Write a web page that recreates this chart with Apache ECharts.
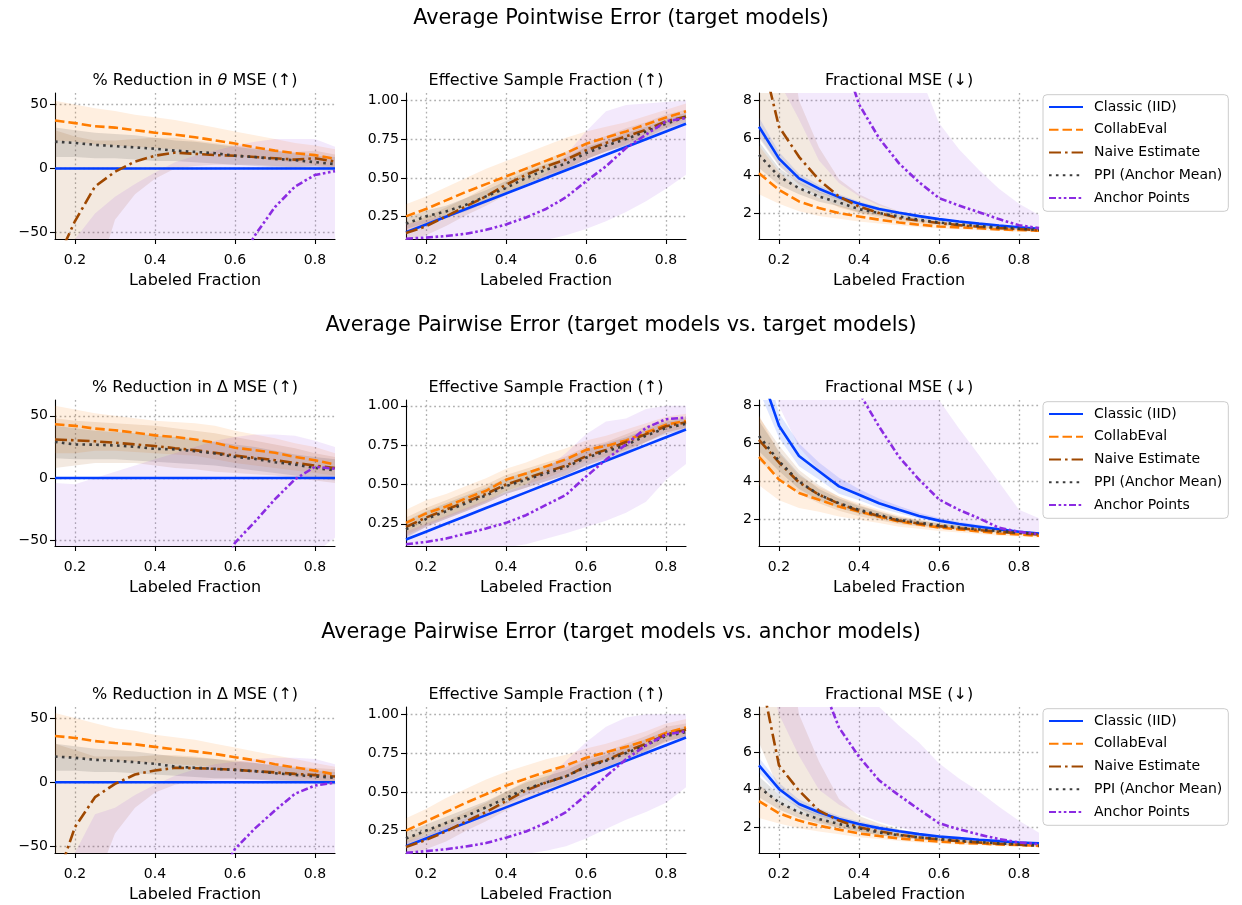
<!DOCTYPE html>
<html><head><meta charset="utf-8">
<script src="https://cdn.jsdelivr.net/npm/echarts@6/dist/echarts.min.js"></script>
<style>html,body{margin:0;padding:0;background:#fff}#c{width:1242px;height:905px}</style>
</head><body><div id="c"></div>
<script>
// ---------------- DATA ----------------
const LABELED_FRACTION = [0.15,0.2,0.25,0.3,0.35,0.4,0.45,0.5,0.55,0.6,0.65,0.7,0.75,0.8,0.85];
const METHODS = ['Classic (IID)','CollabEval','Naive Estimate','PPI (Anchor Mean)','Anchor Points'];
const ROW_TITLES = ['Average Pointwise Error (target models)','Average Pairwise Error (target models vs. target models)','Average Pairwise Error (target models vs. anchor models)'];
const X_TICKS = [0.2,0.4,0.6,0.8];
const RED_TICKS = [-50,0,50];
const ESF_TICKS = [0.25,0.5,0.75,1.0];
const MSE_TICKS = [2,4,6,8];

// Row 1: pointwise
const POINT_RED_MEAN = [
  [0,0,0,0,0,0,0,0,0,0,0,0,0,0,0],
  [37.5,35.5,33,32,30,28,26.5,24.5,22,19.5,16.5,14,12,10.5,7.5],
  [-75,-41,-14,-2.5,5.5,10,12.5,11.5,10.5,10,9,8,7,8,5.5],
  [21,20,18.5,17.5,16.5,15.5,14,13,12,10,9,7.5,6.5,5,3.5],
  [-600,-500,-400,-330,-270,-220,-180,-150,-110,-78,-52,-30,-14,-5,-2]];
const POINT_RED_LO = [null,
  [22,21,19,18,17,16,15,14,12,10,8,6,5,3,1],
  [-200,-150,-90,-40,-20,-8,0,2,3,3,3,2,1,2,0],
  [9,9,8,8,7,6,6,5,4,3,2,1,0,-1,-2],
  [-1200,-1000,-800,-700,-600,-500,-420,-350,-300,-250,-200,-170,-140,-110,-90]];
const POINT_RED_HI = [null,
  [53,50,47,45,42,40,38,35,32,29,26,23,20,18,15],
  [30,25,22,22,23,24,24,22,20,18,16,14,13,14,11],
  [32,30,28,27,26,24,22,21,19,17,15,14,12,10,9],
  [-80,-55,-35,-22,-12,-3,5,10,14,18,21,23,23,23,17]];

const POINT_ESF_MEAN = [
  [0.15,0.2,0.25,0.3,0.35,0.4,0.45,0.5,0.55,0.6,0.65,0.7,0.75,0.8,0.85],
  [0.252,0.30,0.355,0.41,0.46,0.51,0.56,0.61,0.66,0.72,0.76,0.80,0.845,0.89,0.93],
  [0.145,0.188,0.252,0.317,0.381,0.456,0.52,0.575,0.618,0.678,0.725,0.768,0.81,0.865,0.897],
  [0.205,0.252,0.284,0.327,0.381,0.435,0.50,0.553,0.592,0.66,0.708,0.751,0.80,0.85,0.893],
  [0.108,0.115,0.125,0.14,0.165,0.2,0.245,0.3,0.375,0.478,0.575,0.693,0.779,0.865,0.887]];
const POINT_ESF_LO = [null,
  [0.16,0.21,0.26,0.31,0.36,0.41,0.46,0.51,0.56,0.62,0.67,0.72,0.78,0.83,0.88],
  [0.1,0.13,0.19,0.26,0.32,0.39,0.46,0.52,0.56,0.62,0.67,0.71,0.75,0.81,0.85],
  [0.17,0.21,0.245,0.285,0.34,0.39,0.46,0.51,0.55,0.62,0.67,0.71,0.76,0.82,0.86],
  [0.05,0.05,0.06,0.07,0.08,0.09,0.1,0.1,0.13,0.17,0.22,0.28,0.35,0.43,0.52]];
const POINT_ESF_HI = [null,
  [0.33,0.38,0.44,0.5,0.56,0.61,0.66,0.71,0.76,0.8,0.83,0.86,0.9,0.94,0.98],
  [0.2,0.25,0.31,0.37,0.44,0.51,0.57,0.62,0.67,0.73,0.77,0.82,0.86,0.91,0.94],
  [0.24,0.29,0.32,0.37,0.42,0.48,0.54,0.59,0.63,0.7,0.74,0.79,0.83,0.88,0.92],
  [0.2,0.23,0.26,0.3,0.34,0.39,0.45,0.53,0.65,0.8,0.93,0.97,0.98,0.99,1.0]];

const POINT_MSE_MEAN = [
  [6.6,4.9,3.85,3.3,2.85,2.5,2.22,2.02,1.84,1.68,1.55,1.44,1.34,1.25,1.17],
  [4.12,3.24,2.62,2.27,2.0,1.82,1.65,1.5,1.38,1.29,1.24,1.19,1.13,1.1,1.06],
  [11,6.6,5.0,3.77,2.88,2.35,2.0,1.73,1.6,1.47,1.36,1.27,1.2,1.15,1.08],
  [5.1,3.95,3.33,2.88,2.57,2.21,2.0,1.82,1.65,1.5,1.4,1.31,1.24,1.17,1.1],
  [40,28,20,15,11,7.8,6.0,4.65,3.65,2.8,2.4,2.05,1.68,1.35,1.2]];
const POINT_MSE_LO = [
  [6.1,4.55,3.6,3.1,2.7,2.38,2.12,1.94,1.77,1.62,1.5,1.39,1.3,1.21,1.14],
  [3.0,2.5,2.1,1.85,1.7,1.55,1.45,1.35,1.25,1.18,1.12,1.08,1.04,1.01,0.98],
  [6,4.5,3.5,2.9,2.3,2.0,1.75,1.55,1.45,1.35,1.26,1.18,1.12,1.08,1.02],
  [4.4,3.5,3.0,2.6,2.36,2.04,1.86,1.7,1.55,1.42,1.33,1.25,1.19,1.13,1.06],
  [12,9,7,4.8,3.6,2.9,2.4,2.1,1.85,1.65,1.5,1.4,1.3,1.2,1.1]];
const POINT_MSE_HI = [
  [7.1,5.25,4.1,3.5,3.0,2.62,2.32,2.1,1.91,1.74,1.6,1.49,1.38,1.29,1.2],
  [5.6,4.2,3.3,2.8,2.4,2.15,1.95,1.75,1.6,1.48,1.4,1.32,1.24,1.18,1.13],
  [30,15,8,5.5,3.8,3.0,2.5,2.1,1.9,1.7,1.55,1.42,1.33,1.25,1.18],
  [5.8,4.4,3.65,3.15,2.78,2.38,2.14,1.94,1.75,1.58,1.47,1.37,1.29,1.21,1.14],
  [200,150,100,70,50,35,25,16,9.5,6.8,5.4,4.3,3.3,2.5,1.9]];

// Row 2: pairwise, target vs target
const PAIR_T_RED_MEAN = [
  [0,0,0,0,0,0,0,0,0,0,0,0,0,0,0],
  [43.2,41.9,39.7,38.4,36.5,34.3,33,31,28.4,24.3,22.4,20.3,17,14.3,10.8],
  [31,30.3,29.5,28.4,27,25.7,24,22.4,20.3,18,16.2,14.3,12.2,10,8.1],
  [29,27,26.8,26.2,25.1,23.5,23,21.6,19.7,17,15.4,12.7,10.8,8.1,6.2],
  [-1000,-700,-500,-380,-290,-220,-170,-130,-90,-52,-35,-17,-1,9,7.5]];
const PAIR_T_RED_LO = [null,
  [20,20,22,22,21,20,19,18,15,12,10,8,6,4,2],
  [8,10,12,12,12,10,8,7,5,4,3,2,0,-2,-4],
  [16,15,15,15,14,13,12,11,10,8,6,4,2,0,-2],
  [-3000,-2000,-1500,-1100,-900,-700,-550,-430,-330,-250,-180,-130,-90,-60,-48]];
const PAIR_T_RED_HI = [null,
  [58,55,52,50,48,46,45,44,42,38,35,32,28,25,20],
  [48,46,45,44,43,42,40,38,36,33,30,27,24,20,17],
  [42,40,38,37,36,34,33,31,29,27,25,22,19,17,15],
  [-4,-5,0,5,10,15,20,25,30,33,35,35,34,30,25]];

const PAIR_T_ESF_MEAN = [
  [0.15,0.2,0.25,0.3,0.35,0.4,0.45,0.5,0.55,0.6,0.65,0.7,0.75,0.8,0.85],
  [0.256,0.316,0.36,0.412,0.46,0.53,0.57,0.615,0.66,0.72,0.745,0.78,0.83,0.88,0.904],
  [0.23,0.29,0.34,0.39,0.44,0.5,0.54,0.58,0.62,0.68,0.72,0.77,0.82,0.87,0.895],
  [0.215,0.28,0.33,0.38,0.43,0.49,0.53,0.57,0.61,0.67,0.71,0.75,0.81,0.86,0.885],
  [0.12,0.135,0.156,0.188,0.22,0.256,0.305,0.37,0.434,0.55,0.658,0.754,0.86,0.915,0.925]];
const PAIR_T_ESF_LO = [null,
  [0.18,0.24,0.29,0.34,0.39,0.46,0.5,0.54,0.59,0.65,0.68,0.72,0.77,0.83,0.86],
  [0.17,0.23,0.28,0.33,0.38,0.44,0.48,0.52,0.56,0.62,0.67,0.72,0.77,0.83,0.86],
  [0.16,0.23,0.28,0.33,0.38,0.44,0.48,0.52,0.56,0.62,0.66,0.7,0.77,0.82,0.85],
  [0.05,0.06,0.07,0.08,0.09,0.1,0.12,0.155,0.19,0.23,0.27,0.32,0.39,0.53,0.63]];
const PAIR_T_ESF_HI = [null,
  [0.34,0.4,0.44,0.49,0.54,0.6,0.64,0.69,0.73,0.78,0.81,0.85,0.89,0.93,0.95],
  [0.29,0.35,0.4,0.45,0.5,0.56,0.6,0.64,0.68,0.74,0.77,0.82,0.87,0.91,0.93],
  [0.27,0.33,0.38,0.43,0.48,0.54,0.58,0.62,0.66,0.72,0.76,0.8,0.85,0.9,0.92],
  [0.2,0.25,0.3,0.35,0.4,0.45,0.5,0.6,0.7,0.82,0.9,0.92,0.98,1.0,1.0]];

const PAIR_T_MSE_MEAN = [
  [10,6.94,5.34,4.54,3.74,3.3,2.85,2.5,2.18,1.93,1.75,1.61,1.47,1.34,1.25],
  [5.3,4.1,3.39,3.03,2.67,2.41,2.14,1.88,1.73,1.57,1.47,1.36,1.25,1.2,1.13],
  [6.2,5.0,3.95,3.3,2.82,2.45,2.18,1.93,1.78,1.64,1.53,1.43,1.34,1.27,1.19],
  [6.4,5.07,4.0,3.3,2.85,2.5,2.23,1.96,1.82,1.68,1.57,1.47,1.38,1.31,1.22],
  [60,40,26,18,12,8.7,6.9,5.3,4.1,3.05,2.5,2.05,1.55,1.34,1.22]];
const PAIR_T_MSE_LO = [
  [8.8,6.3,4.8,4.1,3.35,3.0,2.6,2.32,2.03,1.81,1.64,1.52,1.39,1.27,1.18],
  [3.8,3.0,2.6,2.4,2.15,1.98,1.8,1.6,1.5,1.38,1.3,1.22,1.13,1.09,1.03],
  [5.1,4.2,3.35,2.85,2.45,2.16,1.95,1.74,1.62,1.5,1.41,1.33,1.25,1.19,1.12],
  [5.6,4.55,3.6,3.0,2.6,2.3,2.06,1.83,1.7,1.57,1.48,1.39,1.31,1.24,1.16],
  [12,8,5.8,4.6,3.8,3.2,2.8,2.45,2.2,1.95,1.75,1.6,1.45,1.3,1.15]];
const PAIR_T_MSE_HI = [
  [11.5,7.6,6.0,5.0,4.2,3.6,3.1,2.7,2.35,2.07,1.87,1.71,1.56,1.42,1.32],
  [7.5,5.5,4.3,3.7,3.2,2.85,2.5,2.2,2.0,1.8,1.68,1.55,1.42,1.34,1.26],
  [7.4,5.9,4.6,3.8,3.2,2.75,2.42,2.13,1.95,1.78,1.66,1.54,1.44,1.36,1.27],
  [7.2,5.6,4.4,3.6,3.1,2.7,2.4,2.1,1.95,1.79,1.67,1.56,1.46,1.38,1.28],
  [300,200,120,80,50,35,25,18,12,8.3,6.8,5.4,3.95,2.5,2.05]];

// Row 3: pairwise, target vs anchor
const PAIR_A_RED_MEAN = [
  [0,0,0,0,0,0,0,0,0,0,0,0,0,0,0],
  [36,34.5,32,30.5,29.5,27.5,25.5,24,22,19.5,17,14,11.5,9,6],
  [-80,-35,-11.7,-1.3,6,9.1,11.2,10.9,10.4,9.6,8.6,7.6,6.5,5.5,4.4],
  [20,19,17.4,16.7,15.6,14.3,12.2,11.2,10.4,9.6,8.6,7,5.7,4.4,3.4],
  [-900,-650,-480,-360,-270,-200,-150,-110,-80,-52,-36,-22,-9,-2.6,-0.3]];
const PAIR_A_RED_LO = [null,
  [20,19,18,17,16,15,14,13,12,10,8,6,4,2,0],
  [-200,-150,-80,-40,-20,-8,-2,1,2,2,2,2,1,0,-1],
  [9,9,8,8,7,6,5,4,3,3,2,1,0,-1,-2],
  [-1200,-1000,-800,-700,-600,-500,-420,-350,-300,-250,-200,-170,-140,-110,-90]];
const PAIR_A_RED_HI = [null,
  [54,50,46,42,40,37,35,33,30,27,24,21,18,15,12],
  [30,25,20,20,20,21,21,20,18,17,15,13,12,11,10],
  [30,28,26,25,24,22,20,19,18,16,15,13,11,9,8],
  [-80,-55,-25,-20,-10,-2,5,10,14,16,18,19,19,18,14]];

const PAIR_A_ESF_MEAN = [
  [0.15,0.2,0.25,0.3,0.35,0.4,0.45,0.5,0.55,0.6,0.65,0.7,0.75,0.8,0.85],
  [0.25,0.31,0.37,0.43,0.485,0.54,0.585,0.63,0.67,0.72,0.755,0.79,0.83,0.88,0.915],
  [0.145,0.19,0.245,0.31,0.37,0.44,0.51,0.56,0.6,0.665,0.705,0.76,0.81,0.87,0.9],
  [0.2,0.25,0.3,0.345,0.4,0.46,0.52,0.56,0.6,0.66,0.7,0.75,0.8,0.86,0.885],
  [0.107,0.118,0.13,0.148,0.17,0.205,0.245,0.3,0.37,0.48,0.6,0.71,0.8,0.87,0.89]];
const PAIR_A_ESF_LO = [null,
  [0.17,0.23,0.28,0.34,0.39,0.45,0.5,0.55,0.6,0.66,0.7,0.73,0.77,0.82,0.86],
  [0.1,0.13,0.18,0.25,0.31,0.38,0.45,0.5,0.54,0.61,0.65,0.71,0.76,0.82,0.86],
  [0.16,0.21,0.26,0.3,0.36,0.42,0.48,0.52,0.56,0.62,0.66,0.71,0.76,0.83,0.85],
  [0.05,0.06,0.06,0.07,0.08,0.09,0.1,0.12,0.15,0.2,0.26,0.32,0.37,0.43,0.53]];
const PAIR_A_ESF_HI = [null,
  [0.33,0.39,0.46,0.52,0.58,0.63,0.67,0.71,0.74,0.78,0.81,0.85,0.89,0.94,0.97],
  [0.2,0.25,0.31,0.37,0.43,0.5,0.57,0.62,0.66,0.72,0.76,0.81,0.86,0.92,0.94],
  [0.24,0.29,0.34,0.39,0.44,0.5,0.56,0.6,0.64,0.7,0.74,0.79,0.84,0.89,0.92],
  [0.18,0.22,0.28,0.33,0.38,0.43,0.5,0.58,0.7,0.82,0.92,0.98,1.0,1.0,1.0]];

const PAIR_A_MSE_MEAN = [
  [5.29,4.04,3.24,2.8,2.44,2.18,1.96,1.79,1.64,1.52,1.43,1.34,1.27,1.2,1.15],
  [3.39,2.75,2.36,2.09,1.88,1.68,1.54,1.41,1.33,1.25,1.18,1.15,1.09,1.06,1.02],
  [10.5,5.29,3.95,2.89,2.36,2.0,1.79,1.61,1.47,1.36,1.27,1.2,1.13,1.08,1.02],
  [4.13,3.33,2.8,2.44,2.18,1.95,1.73,1.59,1.47,1.38,1.29,1.22,1.15,1.09,1.04],
  [30,20,14,10,7.3,5.75,4.5,3.7,2.95,2.22,1.9,1.62,1.38,1.2,1.11]];
const PAIR_A_MSE_LO = [
  [4.9,3.75,3.02,2.62,2.29,2.05,1.85,1.7,1.56,1.45,1.37,1.29,1.22,1.16,1.11],
  [2.5,2.2,1.95,1.78,1.63,1.48,1.38,1.28,1.2,1.14,1.08,1.05,1.0,0.98,0.95],
  [6.5,4.0,3.0,2.3,2.0,1.75,1.58,1.45,1.35,1.26,1.18,1.12,1.06,1.02,0.98],
  [3.6,2.95,2.5,2.2,1.97,1.78,1.58,1.47,1.37,1.29,1.21,1.15,1.08,1.03,0.98],
  [12,8,5.8,4.0,3.2,2.7,2.3,2.0,1.75,1.55,1.42,1.32,1.22,1.14,1.06]];
const PAIR_A_MSE_HI = [
  [5.7,4.35,3.48,3.0,2.6,2.32,2.08,1.89,1.73,1.6,1.5,1.4,1.32,1.25,1.19],
  [4.3,3.3,2.8,2.45,2.2,1.95,1.78,1.62,1.5,1.4,1.32,1.26,1.19,1.14,1.1],
  [30,15,8,5.5,3.5,2.6,2.2,1.9,1.7,1.55,1.42,1.32,1.24,1.16,1.1],
  [4.7,3.75,3.1,2.7,2.4,2.13,1.88,1.72,1.58,1.48,1.38,1.3,1.22,1.15,1.1],
  [200,150,100,70,40,18,8.4,7.4,6.5,5.4,4.6,3.9,3.1,2.35,1.72]];

// ---------------- STYLE / LAYOUT ----------------
const FONT = 'DejaVu Sans';
const COLORS = ['#023eff','#ff7c00','#9f4800','#3c3c3c','#8b2be2'];
const BAND_COLORS = ['rgba(2,62,255,0.13)','rgba(255,124,0,0.12)','rgba(159,72,0,0.12)','rgba(60,60,60,0.14)','rgba(139,43,226,0.10)'];
const DASHES = ['solid',[9.5,4],[12,4,2.6,4],[2.6,4.3],[7,2.6,2.6,2.6,2.6,2.6]];
const GRID_LEFT = [55,406,759];
const GRID_TOP = [93,400,707];
const GRID_W = 280, GRID_H = 146;

const fmtRed = v => v < 0 ? '\u2212' + Math.abs(v) : String(v);
const fmtEsf = v => v.toFixed(2);
const fmtMse = v => String(v);

const PANELS = [
  {mean:POINT_RED_MEAN, lo:POINT_RED_LO, hi:POINT_RED_HI, y:[-55,59], ticks:RED_TICKS, fmt:fmtRed, title:'% Reduction in {i|θ} MSE (↑)'},
  {mean:POINT_ESF_MEAN, lo:POINT_ESF_LO, hi:POINT_ESF_HI, y:[0.106,1.048], ticks:ESF_TICKS, fmt:fmtEsf, title:'Effective Sample Fraction (↑)'},
  {mean:POINT_MSE_MEAN, lo:POINT_MSE_LO, hi:POINT_MSE_HI, y:[0.62,8.4], ticks:MSE_TICKS, fmt:fmtMse, title:'Fractional MSE (↓)'},
  {mean:PAIR_T_RED_MEAN, lo:PAIR_T_RED_LO, hi:PAIR_T_RED_HI, y:[-54.6,62.7], ticks:RED_TICKS, fmt:fmtRed, title:'% Reduction in Δ MSE (↑)'},
  {mean:PAIR_T_ESF_MEAN, lo:PAIR_T_ESF_LO, hi:PAIR_T_ESF_HI, y:[0.109,1.037], ticks:ESF_TICKS, fmt:fmtEsf, title:'Effective Sample Fraction (↑)'},
  {mean:PAIR_T_MSE_MEAN, lo:PAIR_T_MSE_LO, hi:PAIR_T_MSE_HI, y:[0.59,8.3], ticks:MSE_TICKS, fmt:fmtMse, title:'Fractional MSE (↓)'},
  {mean:PAIR_A_RED_MEAN, lo:PAIR_A_RED_LO, hi:PAIR_A_RED_HI, y:[-55.2,58.6], ticks:RED_TICKS, fmt:fmtRed, title:'% Reduction in Δ MSE (↑)'},
  {mean:PAIR_A_ESF_MEAN, lo:PAIR_A_ESF_LO, hi:PAIR_A_ESF_HI, y:[0.106,1.047], ticks:ESF_TICKS, fmt:fmtEsf, title:'Effective Sample Fraction (↑)'},
  {mean:PAIR_A_MSE_MEAN, lo:PAIR_A_MSE_LO, hi:PAIR_A_MSE_HI, y:[0.64,8.39], ticks:MSE_TICKS, fmt:fmtMse, title:'Fractional MSE (↓)'}
];

const grids = [], xAxes = [], yAxes = [], series = [], texts = [], legends = [];
const axisLineStyle = {color:'#000', width:1.1};
const splitStyle = {color:'#b0b0b0', width:1.3, type:[1.8,2.9]};

function bandSeries(k, lo, hi, color) {
  return {type:'custom', xAxisIndex:k, yAxisIndex:k, silent:true, z:1, clip:true,
    encode:{x:0, y:[1, 2]},
    data:LABELED_FRACTION.map((x, i) => [x, lo[i], hi[i]]),
    renderItem:(params, api) => {
      if (params.dataIndex !== 0) return null;
      const top = LABELED_FRACTION.map((x, i) => api.coord([x, hi[i]]));
      const bot = LABELED_FRACTION.map((x, i) => api.coord([x, lo[i]])).reverse();
      return {type:'polygon', shape:{points:top.concat(bot)}, style:{fill:color, stroke:null}};
    }};
}

PANELS.forEach((p, k) => {
  const r = Math.floor(k / 3), c = k % 3;
  grids.push({left:GRID_LEFT[c], top:GRID_TOP[r], width:GRID_W, height:GRID_H, containLabel:false});
  xAxes.push({type:'value', gridIndex:k, min:0.15, max:0.85,
    axisLine:{show:true, onZero:false, lineStyle:axisLineStyle},
    axisTick:{show:true, length:5, customValues:X_TICKS, lineStyle:axisLineStyle},
    axisLabel:{customValues:X_TICKS, formatter:v => v.toFixed(1), fontSize:14, color:'#000', fontFamily:FONT, margin:14},
    splitLine:{show:true, lineStyle:splitStyle},
    name:'Labeled Fraction', nameLocation:'middle', nameGap:34,
    nameTextStyle:{fontSize:16, color:'#000', fontFamily:FONT}});
  yAxes.push({type:'value', gridIndex:k, min:p.y[0], max:p.y[1],
    axisLine:{show:true, onZero:false, lineStyle:axisLineStyle},
    axisTick:{show:true, length:5, customValues:p.ticks, lineStyle:axisLineStyle},
    axisLabel:{customValues:p.ticks, formatter:p.fmt, fontSize:14, color:'#000', fontFamily:FONT, margin:7},
    splitLine:{show:true, lineStyle:splitStyle}});
  METHODS.forEach((name, m) => {
    if (p.lo[m]) series.push(bandSeries(k, p.lo[m], p.hi[m], BAND_COLORS[m]));
  });
  METHODS.forEach((name, m) => {
    series.push({type:'line', name, xAxisIndex:k, yAxisIndex:k, symbol:'none', z:2 + m * 0.01,
      lineStyle:{color:COLORS[m], width:2.6, type:DASHES[m], cap:'butt'},
      itemStyle:{color:COLORS[m]},
      data:LABELED_FRACTION.map((x, i) => [x, p.mean[m][i]])});
  });
  texts.push({type:'text', x:GRID_LEFT[c] + GRID_W / 2, y:GRID_TOP[r] - 12,
    style:{text:p.title, fill:'#000', fontSize:16, fontFamily:FONT, align:'center', verticalAlign:'middle',
      textAlign:'center', textVerticalAlign:'middle',
      rich:{i:{fontStyle:'italic', fontSize:16, fontFamily:FONT, fill:'#000'}}}});
});

ROW_TITLES.forEach((t, r) => {
  texts.push({type:'text', x:621, y:GRID_TOP[r] - 74,
    style:{text:t, fill:'#000', fontSize:20.8, fontFamily:FONT, align:'center', verticalAlign:'middle',
      textAlign:'center', textVerticalAlign:'middle'}});
  legends.push({data:METHODS, orient:'vertical', left:1043, top:GRID_TOP[r] + 1.7,
    itemWidth:34, itemHeight:14, itemGap:8.75, padding:[5.3, 6, 6.3, 5],
    itemStyle:{opacity:0},
    backgroundColor:'rgba(255,255,255,0.8)', borderColor:'#cccccc', borderWidth:1, borderRadius:4,
    textStyle:{fontSize:14, color:'#000', fontFamily:FONT, padding:[0,0,0,6]}});
});

const chart = echarts.init(document.getElementById('c'), null, {renderer:'canvas'});
chart.setOption({
  animation:false,
  backgroundColor:'#ffffff',
  textStyle:{fontFamily:FONT},
  grid:grids, xAxis:xAxes, yAxis:yAxes, series, legend:legends,
  graphic:{elements:texts}
});
</script></body></html>
